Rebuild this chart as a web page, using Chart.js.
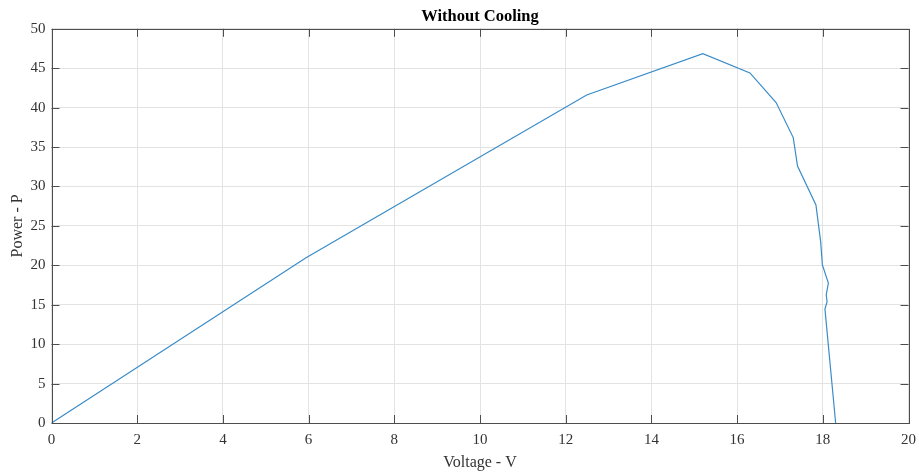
<!DOCTYPE html>
<html>
<head>
<meta charset="utf-8">
<title>Without Cooling</title>
<script src="https://cdn.jsdelivr.net/npm/chart.js@4.4.1/dist/chart.umd.min.js"></script>
<style>
  html, body { margin: 0; padding: 0; background: #fff; }
  #wrap { width: 919px; height: 472px; }
</style>
</head>
<body>
<div id="wrap"><canvas id="pvChart" width="919" height="472"></canvas></div>
<script>
// P-V curve of the panel, no cooling
const voltage = [0, 5.94, 12.49, 15.2, 16.3, 16.91, 17.31, 17.41, 17.84, 17.95, 17.99, 18.13, 18.08, 18.1, 18.05, 18.3];
const power   = [0, 20.96, 41.6, 46.85, 44.4, 40.65, 36.2, 32.6, 27.65, 23.0, 20.05, 17.75, 16.25, 15.4, 14.45, 0];

const xTicks = [0, 2, 4, 6, 8, 10, 12, 14, 16, 18, 20];
const yTicks = [0, 5, 10, 15, 20, 25, 30, 35, 40, 45, 50];

const serif = "'Liberation Serif', 'Times New Roman', serif";

const points = voltage.map((v, i) => ({ x: v, y: power[i] }));

// box around the axes plus inward tick marks on all four sides
const boxPlugin = {
  id: 'boxPlugin',
  afterDraw(chart) {
    const ctx = chart.ctx;
    const a = chart.chartArea;
    const xs = chart.scales.x, ys = chart.scales.y;
    const len = 8;
    ctx.save();
    ctx.strokeStyle = '#4d4d4d';
    ctx.lineWidth = 1;
    ctx.beginPath();
    xTicks.forEach(t => {
      const px = Math.round(xs.getPixelForValue(t)) + 0.5;
      ctx.moveTo(px, a.bottom); ctx.lineTo(px, a.bottom - len);
      ctx.moveTo(px, a.top); ctx.lineTo(px, a.top + len);
    });
    yTicks.forEach(t => {
      const py = Math.round(ys.getPixelForValue(t)) + 0.5;
      ctx.moveTo(a.left, py); ctx.lineTo(a.left + len, py);
      ctx.moveTo(a.right, py); ctx.lineTo(a.right - len, py);
    });
    ctx.stroke();
    ctx.strokeRect(Math.round(a.left) + 0.5, Math.round(a.top) + 0.5,
                   Math.round(a.right - a.left), Math.round(a.bottom - a.top));
    ctx.restore();
  }
};

new Chart(document.getElementById('pvChart'), {
  type: 'scatter',
  data: {
    datasets: [{
      data: points,
      showLine: true,
      borderColor: '#3a8cc8',
      borderWidth: 1.2,
      pointRadius: 0,
      tension: 0,
      fill: false
    }]
  },
  options: {
    responsive: false,
    animation: false,
    layout: { padding: { left: 0, right: 10.5, top: 0, bottom: 0 } },
    plugins: {
      legend: { display: false },
      tooltip: { enabled: false },
      title: {
        display: true,
        text: 'Without Cooling',
        fullSize: false,
        color: '#000',
        font: { family: serif, size: 16.5, weight: 'bold' },
        padding: { top: 7, bottom: 2 }
      }
    },
    scales: {
      x: {
        type: 'linear',
        min: 0, max: 20,
        afterBuildTicks: s => { s.ticks = xTicks.map(v => ({ value: v })); },
        afterFit: s => { s.height = 49; s.paddingLeft = 0; s.paddingRight = 0; },
        grid: { color: '#e3e3e3', drawTicks: false },
        border: { display: false },
        ticks: { color: '#333', padding: 8, maxRotation: 0, font: { family: serif, size: 15 } },
        title: {
          display: true,
          text: 'Voltage - V',
          color: '#333',
          font: { family: serif, size: 16 },
          padding: { top: 0, bottom: 0 }
        }
      },
      y: {
        type: 'linear',
        min: 0, max: 50,
        afterBuildTicks: s => { s.ticks = yTicks.map(v => ({ value: v })); },
        afterFit: s => { s.width = 51.5; s.paddingTop = 0; s.paddingBottom = 0; },
        grid: { color: '#e3e3e3', drawTicks: false },
        border: { display: false },
        ticks: { color: '#333', padding: 6, font: { family: serif, size: 15 } },
        title: {
          display: true,
          text: 'Power - P',
          color: '#333',
          font: { family: serif, size: 16 },
          padding: { top: 8, bottom: 0 }
        }
      }
    }
  },
  plugins: [boxPlugin]
});
</script>
</body>
</html>
